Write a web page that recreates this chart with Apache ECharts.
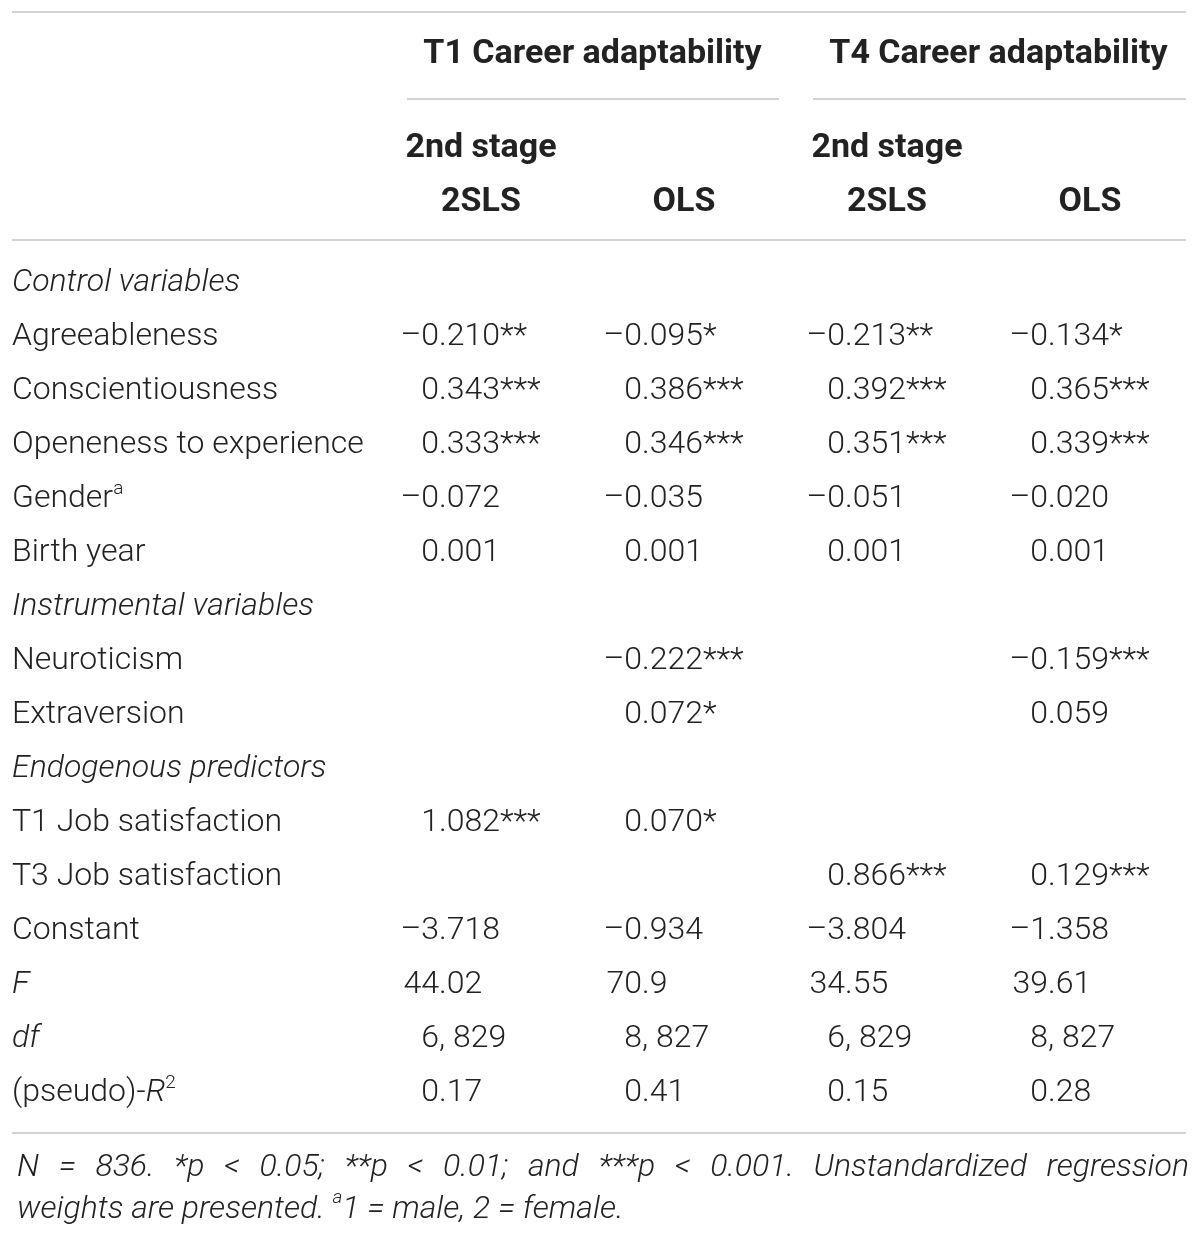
<!DOCTYPE html>
<html>
<head>
<meta charset="utf-8">
<script src="https://cdn.jsdelivr.net/npm/echarts@6/dist/echarts.min.js"></script>
<style>
  html, body { margin: 0; padding: 0; background: #fff; }
  #container { width: 1200px; height: 1237px; }
</style>
</head>
<body>
<div id="container"></div>
<script>
// table content
var groupHeaders = ['T1 Career adaptability', 'T4 Career adaptability'];
var subHeaders = ['2nd stage\n2SLS', '\nOLS', '2nd stage\n2SLS', '\nOLS'];
var rowLabels = [
    'Control variables', 'Agreeableness', 'Conscientiousness', 'Openeness to experience',
    'Gender{sup|a}', 'Birth year', 'Instrumental variables', 'Neuroticism', 'Extraversion',
    'Endogenous predictors', 'T1 Job satisfaction', 'T3 Job satisfaction', 'Constant',
    'F', 'df', '(pseudo)-{it|R}{sup|2}'
];
var italicRows = [0, 6, 9, 13, 14];
var t1Stage2 = ['', '–0.210**', '0.343***', '0.333***', '–0.072', '0.001', '', '', '', '', '1.082***', '', '–3.718', '44.02', '6, 829', '0.17'];
var t1Ols = ['', '–0.095*', '0.386***', '0.346***', '–0.035', '0.001', '', '–0.222***', '0.072*', '', '0.070*', '', '–0.934', '70.9', '8, 827', '0.41'];
var t4Stage2 = ['', '–0.213**', '0.392***', '0.351***', '–0.051', '0.001', '', '', '', '', '', '0.866***', '–3.804', '34.55', '6, 829', '0.15'];
var t4Ols = ['', '–0.134*', '0.365***', '0.339***', '–0.020', '0.001', '', '–0.159***', '0.059', '', '', '0.129***', '–1.358', '39.61', '8, 827', '0.28'];
var footLine1 = 'N = 836. *p < 0.05; **p < 0.01; and ***p < 0.001. Unstandardized regression';
var footLine2 = ['weights are presented. ', 'a', '1 = male, 2 = female.'];

var FONT = 'Roboto, "Liberation Sans", sans-serif';
var FS = 32;
var HEAD_FS = 34;
var TXT = '#222';
var RULE = '#c4c4c4';

var myChart = echarts.init(document.getElementById('container'));

// cells: [col, row] on the category grid
var cells = [];
groupHeaders.forEach(function (t, i) {
    cells.push({col: 1 + 2 * i, row: 0, text: t, kind: 'group'});
});
subHeaders.forEach(function (t, i) {
    cells.push({col: i + 1, row: 2, text: t, kind: 'sub'});
});
rowLabels.forEach(function (t, r) {
    cells.push({col: 0, row: r + 4, text: t, kind: italicRows.indexOf(r) >= 0 ? 'sect' : 'label'});
});
[t1Stage2, t1Ols, t4Stage2, t4Ols].forEach(function (arr, c) {
    arr.forEach(function (t, r) {
        if (t) cells.push({col: c + 1, row: r + 4, text: t, kind: 'num'});
    });
});

var rowCats = [];
for (var i = 0; i < 20; i++) rowCats.push('r' + i);

var richLabel = {
    sup: {fontSize: 19, lineHeight: 18, verticalAlign: 'top', fontFamily: FONT, fontWeight: 300, fill: TXT},
    it: {fontStyle: 'italic', fontSize: FS, fontFamily: FONT, fontWeight: 300, fill: TXT}
};

// footnote first line is justified to the table width
var measure = document.createElement('canvas').getContext('2d');
measure.font = 'italic 300 ' + FS + 'px ' + FONT;
var footWords = footLine1.split(' ');
var wordsW = 0;
footWords.forEach(function (w) { wordsW += measure.measureText(w).width; });
var gap = Math.max(6, (1172 - wordsW) / (footWords.length - 1));
var footnote = footWords.map(function (w) { return '{it|' + w + '}'; }).join('{sp| }') + '\n' +
    '{it|' + footLine2[0] + '}{sup|' + footLine2[1] + '}{it|' + footLine2[2] + '}';

function renderCell(params, api) {
    var cell = cells[params.dataIndex];
    var pt = api.coord([api.value(0), api.value(1)]);
    var bandW = api.size([1, 0])[0];
    var base = {fontFamily: FONT, fontSize: FS, fill: TXT};
    if (cell.kind === 'group') {
        return {
            type: 'text', x: pt[0] + bandW / 2 + 10, y: pt[1] - 13,
            style: Object.assign({}, base, {text: cell.text, fontSize: HEAD_FS, fontWeight: 'bold', align: 'center', verticalAlign: 'middle'})
        };
    }
    if (cell.kind === 'sub') {
        return {
            type: 'text', x: pt[0], y: pt[1],
            style: Object.assign({}, base, {text: cell.text, fontSize: HEAD_FS, fontWeight: 'bold', lineHeight: 54, align: 'center', verticalAlign: 'middle'})
        };
    }
    if (cell.kind === 'label' || cell.kind === 'sect') {
        return {
            type: 'text', x: 12, y: pt[1],
            style: Object.assign({}, base, {
                text: cell.text, fontWeight: 300, lineHeight: 38,
                fontStyle: cell.kind === 'sect' ? 'italic' : 'normal',
                align: 'left', verticalAlign: 'middle', rich: richLabel
            })
        };
    }
    // numbers: aligned on the decimal point / comma
    var m = cell.text.search(/[.,]/);
    var head = cell.text.slice(0, m), tail = cell.text.slice(m);
    var dx = pt[0] - 42;
    return {
        type: 'group',
        children: [
            {type: 'text', x: dx, y: pt[1], style: Object.assign({}, base, {text: head, fontWeight: 300, align: 'right', verticalAlign: 'middle'})},
            {type: 'text', x: dx, y: pt[1], style: Object.assign({}, base, {text: tail, fontWeight: 300, align: 'left', verticalAlign: 'middle'})}
        ]
    };
}

function hline(x1, x2, y) {
    return {type: 'line', shape: {x1: x1, y1: y, x2: x2, y2: y}, style: {stroke: RULE, lineWidth: 1.5}, silent: true};
}

var itStyle = {fontFamily: FONT, fontSize: FS, fontWeight: 300, fontStyle: 'italic', color: TXT, lineHeight: 42};
var option = {
    backgroundColor: '#fff',
    animation: false,
    title: {
        left: 12, top: 1142,
        text: footnote,
        textStyle: Object.assign({}, itStyle, {
            rich: {
                it: itStyle,
                sp: Object.assign({}, itStyle, {width: gap}),
                sup: {fontFamily: FONT, fontSize: 19, fontWeight: 300, fontStyle: 'italic', color: TXT, lineHeight: 30, verticalAlign: 'top'}
            }
        })
    },
    grid: {left: 176.5, width: 1015, top: 40, height: 1080},
    xAxis: {type: 'category', data: ['label', 'c1', 'c2', 'c3', 'c4'], show: false},
    yAxis: {type: 'category', data: rowCats, inverse: true, show: false},
    graphic: [
        hline(12, 1186, 12),
        hline(407, 779, 99),
        hline(813, 1186, 99),
        hline(12, 1186, 240),
        hline(12, 1186, 1133)
    ],
    series: [{
        type: 'custom',
        renderItem: renderCell,
        data: cells.map(function (c) { return [c.col, c.row]; }),
        silent: true
    }]
};

myChart.setOption(option);
</script>
</body>
</html>
